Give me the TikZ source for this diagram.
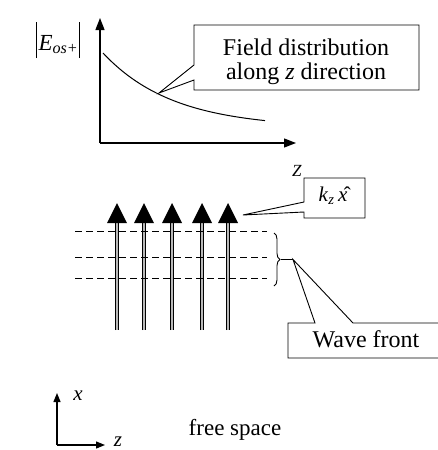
\documentclass[tikz,border=0pt]{standalone}
\usepackage{fontspec}
\setmainfont{Liberation Serif}
\usetikzlibrary{arrows.meta,decorations.pathreplacing}
\begin{document}
\begin{tikzpicture}[x=1pt,y=-1pt,
  axis/.style={line width=1.3pt,-{Triangle[width=9pt,length=12pt]}},
  smallaxis/.style={line width=1.2pt,-{Triangle[width=7pt,length=9pt]}},
  callout/.style={line width=0.9pt},
  shaft/.style={line width=1pt,double=gray!55,double distance=2.6pt},
  head/.style={fill=black},
  front/.style={dashed,dash pattern=on 7pt off 4pt,line width=0.8pt},
  lbl/.style={font=\fontsize{24}{26}\selectfont,inner sep=0pt}]
\useasboundingbox (0,0) rectangle (438,450);
\clip (0,0) rectangle (438,450);
% top plot
\coordinate (o) at (100,143);
\coordinate (ytop) at (100,18);
\coordinate (xend) at (296,143);
\draw[axis] (o) -- (ytop);
\draw[axis] (o) -- (xend);
\draw[line width=1pt] plot[domain=103:265,samples=60] (\x,{128-75*exp(-(\x-103)/70)});
\node[font=\fontsize{23}{26}\selectfont,inner sep=0pt,anchor=center] (Elbl) at (58,40)
  {\rule[-8pt]{1pt}{36pt}\kern2pt\textit{E}\textsubscript{\textit{os+}}\kern1pt\rule[-8pt]{1pt}{36pt}};
% callout field distribution
\coordinate (ftip) at (159,93);
\draw[callout] (194,65) -- (194,25) -- (419,25) -- (419,90) -- (194,90) -- (194,80) -- (ftip) -- cycle;
\node[lbl] (f1) at (306,47) {Field distribution};
\node[lbl] (f2) at (306,74) {along \textit{z} direction};
% arrows
\foreach \i/\x in {1/117,2/144,3/172,4/202,5/228}{
  \coordinate (b\i) at (\x,330);
  \coordinate (t\i) at (\x,222);
  \draw[shaft] (b\i) -- (t\i);
  \fill[head] (\x-10,223) -- (\x,203) -- (\x+10,223) -- cycle;
}
% wave fronts
\foreach \y/\n in {231/w1,257/w2,278/w3}{
  \coordinate (\n a) at (75,\y);
  \coordinate (\n b) at (267,\y);
  \draw[front] (\n a) -- (\n b);
}
\draw[line width=0.9pt,decorate,decoration={brace,amplitude=6pt}] (274,233) -- (274,286);
\coordinate (btip) at (281,259.5);
\coordinate (wtip) at (293,259.5);
\draw[line width=0.9pt] (btip) -- (wtip);
\draw[callout] (440,323) -- (353,323) -- (wtip) -- (315,323) -- (288,323) -- (288,358) -- (440,358);
\node[lbl] (wf) at (366,339) {Wave front};
% k box
\coordinate (ktip) at (243,215);
\draw[callout] (304,202) -- (304,178) -- (365,178) -- (365,218) -- (304,218) -- (304,212) -- (ktip) -- cycle;
\node[font=\fontsize{21}{24}\selectfont,inner sep=0pt] (k) at (333,196) {\textit{k}\textsubscript{\textit{z}}\,\^{\textit{x}}};
\node[font=\fontsize{17}{20}\selectfont,inner sep=0pt] (Z) at (297,171) {\textit{Z}};
% bottom axes
\coordinate (O2) at (57,445);
\coordinate (X2) at (57,393);
\coordinate (Z2) at (105,445);
\draw[smallaxis] (O2) -- (X2);
\draw[smallaxis] (O2) -- (Z2);
\node[font=\fontsize{21}{24}\selectfont,inner sep=0pt] (xl) at (78,396) {\textit{x}};
\node[font=\fontsize{21}{24}\selectfont,inner sep=0pt] (zl) at (118,442) {\textit{z}};
\node[font=\fontsize{23}{26}\selectfont,inner sep=0pt] (fs) at (235,430) {free space};
\end{tikzpicture}
\end{document}
